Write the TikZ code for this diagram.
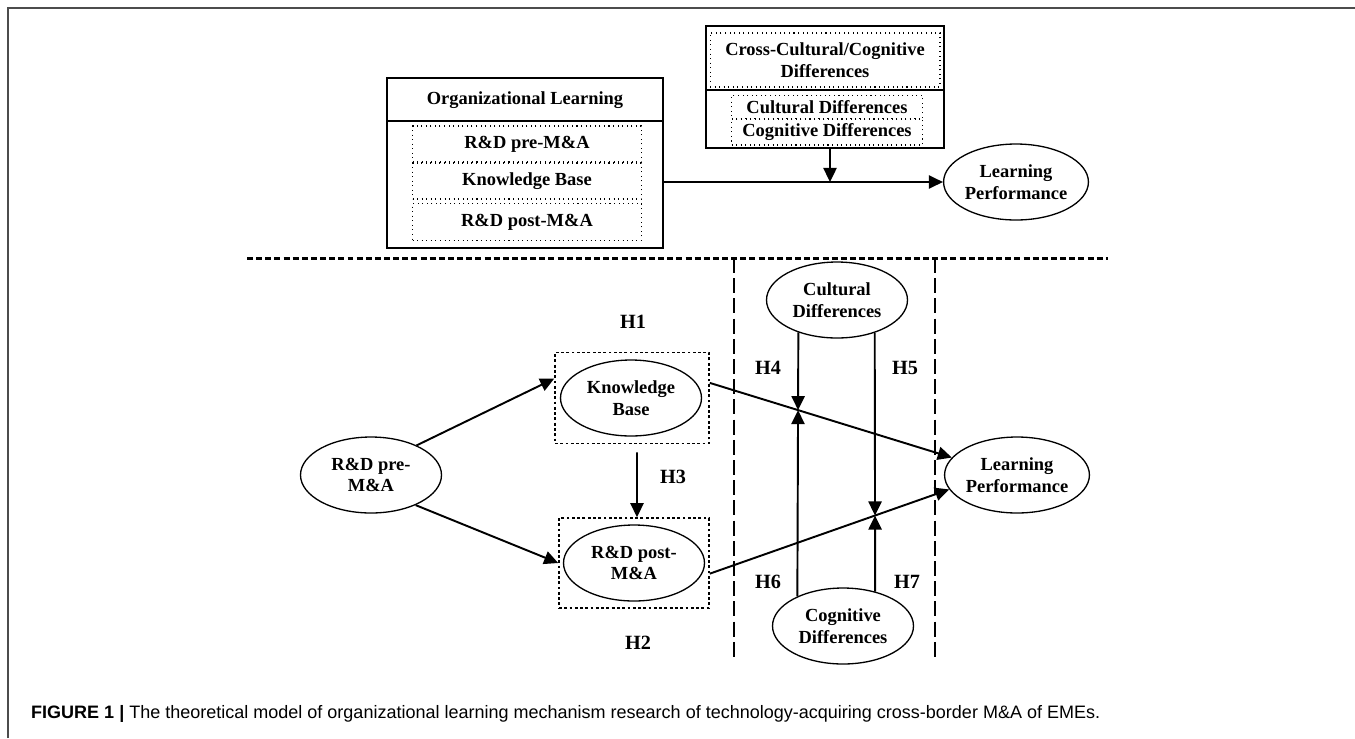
\documentclass[tikz,border=0pt]{standalone}
\usepackage{fontspec}
\setmainfont{Liberation Serif}
\newfontfamily\capfont{Liberation Sans}
\usetikzlibrary{arrows.meta}
\usetikzlibrary{shapes.geometric}

\begin{document}
\begin{tikzpicture}[x=0.02cm,y=-0.02cm,>={Triangle[length=8pt,width=7.5pt]},
	var/.style={ellipse,draw,line width=0.75pt,minimum width=2.82cm,minimum height=1.52cm,inner sep=0pt,align=center,font=\fontsize{10.5}{12.3}\selectfont\bfseries},
	dotbox/.style={draw,dotted,line width=0.6pt,inner sep=0pt,align=center,font=\fontsize{10.5}{12.3}\selectfont\bfseries},
	groupbox/.style={draw,line width=0.9pt,dash pattern=on 1.6pt off 1.4pt,inner sep=0pt},
	hyp/.style={font=\fontsize{11.5}{12}\selectfont\bfseries},
	link/.style={->,line width=1.1pt}]
			\useasboundingbox (0,0) rectangle (1355,738);
			\draw[gray!60!black,line width=1pt] (8,738)--(8,8)--(1355,8);

			\node[draw,line width=1.1pt,minimum width=5.52cm,minimum height=3.4cm,inner sep=0pt] (org) at (525,163) {};
			\node[font=\fontsize{10.5}{12.3}\selectfont\bfseries] (orgtitle) at (525,100) {Organizational Learning};
			\draw[line width=1.1pt] (org.west |- 0,121)--(org.east |- 0,121);
			\node[dotbox,minimum width=4.58cm,minimum height=0.72cm] (orgpre) at (527,144) {R\&D pre-M\&A};
			\node[dotbox,minimum width=4.58cm,minimum height=0.72cm] (orgkb) at (527,181) {Knowledge Base};
			\node[dotbox,minimum width=4.58cm,minimum height=0.74cm] (orgpost) at (527,222) {R\&D post-M\&A};

			\node[draw,line width=1.1pt,minimum width=4.76cm,minimum height=2.44cm,inner sep=0pt] (diff) at (825,87) {};
			\draw[line width=1.1pt] (diff.west |- 0,90)--(diff.east |- 0,90);
			\node[dotbox,minimum width=4.6cm,minimum height=1.08cm] (difftitle) at (825,60) {Cross-Cultural/Cognitive\\Differences};
			\node[dotbox,minimum width=3.82cm,minimum height=0.46cm] (diffcul) at (827,107) {Cultural Differences};
			\node[dotbox,minimum width=3.82cm,minimum height=0.52cm] (diffcog) at (827,132) {Cognitive Differences};

			\node[var] (lp1) at (1016,182) {Learning\\Performance};
			\coordinate (join) at (830,182);
			\draw[link] (org.east |- join)--(lp1.west);
			\draw[link] (diff.south -| join)--(join);

			\draw[line width=1.7pt,dash pattern=on 3.4pt off 1.8pt] (247,258)--(1108,258);
			\draw[line width=1pt,dash pattern=on 8.5pt off 3pt] (734,258)--(734,662);
			\draw[line width=1pt,dash pattern=on 8.5pt off 3pt] (935,258)--(935,662);

			\node[var] (pre) at (371,475) {R\&D pre-\\M\&A};
			\node[groupbox,minimum width=3.08cm,minimum height=1.82cm] (kbbox) at (632,398) {};
			\node[var] (kb) at (631,398) {Knowledge\\Base};
			\node[groupbox,minimum width=3.0cm,minimum height=1.8cm] (postbox) at (634,563) {};
			\node[var] (post) at (634,563) {R\&D post-\\M\&A};
			\node[var] (cul) at (837,300) {Cultural\\Differences};
			\node[var] (cog) at (843,626) {Cognitive\\Differences};
			\node[var] (lp2) at (1017,475) {Learning\\Performance};

			\draw[link] (pre.33)--(kbbox.166);
			\draw[link] (pre.-34)--(postbox.west);
			\draw[link] ([xshift=0.1cm,yshift=-0.16cm]kbbox.south)--([xshift=0.06cm]postbox.north);
			\draw[link] (kbbox.11)--(lp2.165);
			\draw[link] (postbox.-8)--(lp2.192);

			\coordinate (m1) at (intersection of kbbox.11--lp2.165 and cul.220--cog.147);
			\coordinate (m2) at (intersection of postbox.-8--lp2.192 and cul.-41--cog.47);
			\draw[link] (cul.220)--(m1);
			\draw[link] (cog.147)--(m1);
			\draw[link] (cul.-41)--(m2);
			\draw[link] (cog.47)--(m2);

			\node[hyp] (h1) at (633,322) {H1};
			\node[hyp] (h2) at (638,643) {H2};
			\node[hyp] (h3) at (673,477) {H3};
			\node[hyp] (h4) at (768,368) {H4};
			\node[hyp] (h5) at (905,368) {H5};
			\node[hyp] (h6) at (768,582) {H6};
			\node[hyp] (h7) at (907,582) {H7};

			\node[anchor=base west,font=\capfont\fontsize{10.25}{12}\selectfont] (caption) at (25,718) {\textbf{FIGURE 1 |} The theoretical model of organizational learning mechanism research of technology-acquiring cross-border M\&A of EMEs.};
		\end{tikzpicture}
\end{document}
